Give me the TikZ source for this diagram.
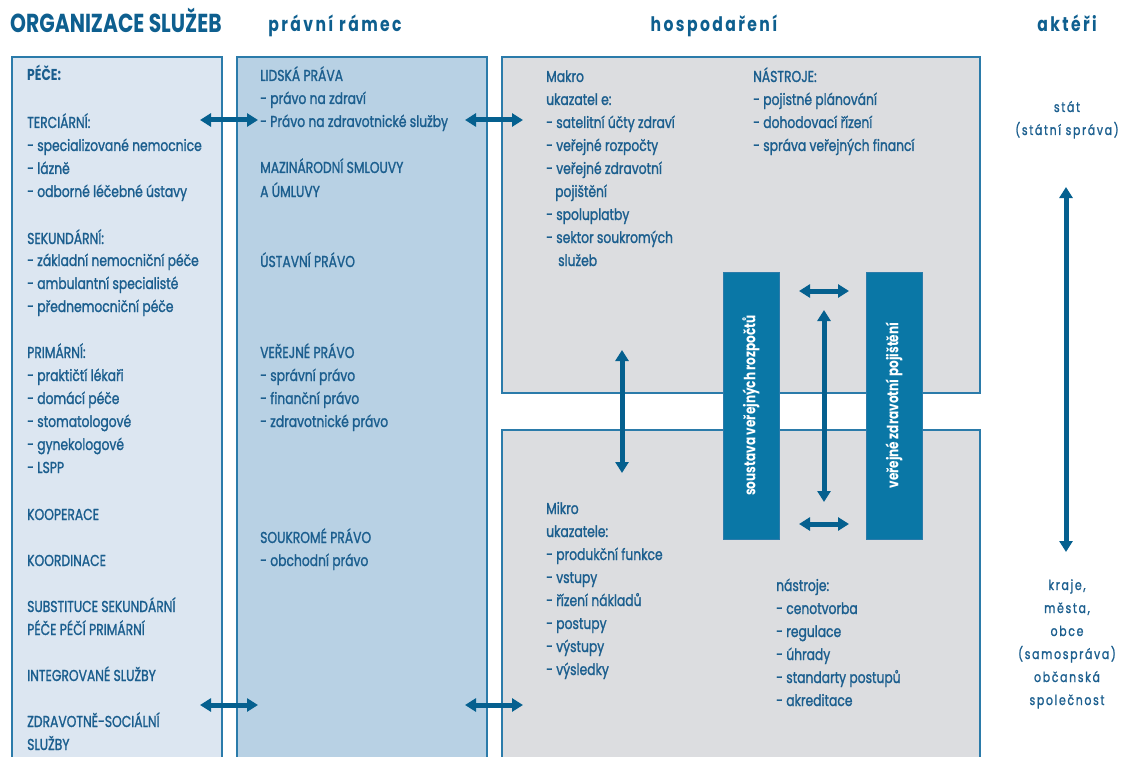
\documentclass[tikz,border=0pt]{standalone}
\usepackage{fontspec}
\setmainfont{Poppins}[FakeStretch=0.78, UprightFeatures={FakeBold=1.3}, BoldFeatures={FakeBold=0}]
\newfontfamily\spacedfont{Poppins}[FakeStretch=0.78, LetterSpace=12, UprightFeatures={FakeBold=1.3}, BoldFeatures={FakeBold=0}]
\usetikzlibrary{arrows.meta}

\definecolor{txt}{HTML}{1B5E8E}
\definecolor{headc}{HTML}{0E5F8F}
\definecolor{boxline}{HTML}{2B7BAA}
\definecolor{carefill}{HTML}{DCE6F1}
\definecolor{lawfill}{HTML}{B8D1E4}
\definecolor{econfill}{HTML}{DCDDE0}
\definecolor{barfill}{HTML}{0A77A6}
\definecolor{arrowc}{HTML}{05608F}

\begin{document}
\begin{tikzpicture}[x=1pt, y=-1pt,
  panel/.style={draw=boxline, line width=1.8pt, anchor=north west, inner sep=0pt},
  bar/.style={draw=boxline, line width=1pt, fill=barfill, text=white, inner sep=0pt,
    font=\fontsize{15.5}{18}\selectfont\bfseries},
  item/.style={anchor=base west, inner sep=0pt, text=txt, font=\fontsize{15.8}{18}\selectfont},
  actor/.style={anchor=base, inner sep=0pt, text=txt, font=\fontsize{14}{16}\spacedfont},
  title/.style={anchor=base west, inner sep=0pt, text=headc, font=\fontsize{26}{30}\selectfont\bfseries},
  coltitle/.style={anchor=base, inner sep=0pt, text=headc, font=\fontsize{20}{24}\spacedfont\bfseries},
  dbl/.style={draw=arrowc, line width=5pt,
    {Triangle[width=13pt,length=11pt]}-{Triangle[width=13pt,length=11pt]}}
]
\useasboundingbox (0,0) rectangle (1125,757);

% column headings
\node[title] (hOrg) at (10,33) {ORGANIZACE SLUŽEB};
\node[coltitle] (hLaw) at (335,32) {právní rámec};
\node[coltitle] (hEcon) at (714,32) {hospodaření};
\node[coltitle] (hAct) at (1067,32) {aktéři};

% panels
\node[panel, fill=carefill, minimum width=210pt, minimum height=720pt] (care) at (11,56) {};
\node[panel, fill=lawfill, minimum width=250pt, minimum height=720pt] (law) at (236,56) {};
\node[panel, fill=econfill, minimum width=478pt, minimum height=336pt] (macro) at (501,56) {};
\node[panel, fill=econfill, minimum width=478pt, minimum height=340pt] (micro) at (501,429) {};

% vertical bars
\node[bar, rotate=90, minimum width=267pt, minimum height=56pt] (budget) at (751,405.5) {soustava veřejných rozpočtů};
\node[bar, rotate=90, minimum width=267pt, minimum height=56pt] (insur) at (894,405.5) {veřejné zdravotní pojištění};

% care organisation
\node[item, font=\fontsize{15.8}{18}\selectfont\bfseries] (c0) at (27,81) {PÉČE:};
\foreach \y/\t [count=\i] in {
  128/TERCIÁRNÍ:, 151/- specializované nemocnice, 174/- lázně, 197/- odborné léčebné ústavy,
  244/SEKUNDÁRNÍ:, 266/- základní nemocniční péče, 289/- ambulantní specialisté, 312/- přednemocniční péče,
  358/PRIMÁRNÍ:, 381/- praktičtí lékaři, 404/- domácí péče, 427/- stomatologové, 450/- gynekologové, 473/- LSPP,
  520/KOOPERACE, 566/KOORDINACE, 612/SUBSTITUCE SEKUNDÁRNÍ, 635/PÉČE PÉČÍ PRIMÁRNÍ,
  681/INTEGROVANÉ SLUŽBY, 727/ZDRAVOTNĚ-SOCIÁLNÍ, 750/SLUŽBY}
  \node[item] (c\i) at (27,\y) {\t};

% legal framework
\foreach \y/\t [count=\i] in {
  81/LIDSKÁ PRÁVA, 104/- právo na zdraví, 127/- Právo na zdravotnické služby,
  173/MAZINÁRODNÍ SMLOUVY, 197/A ÚMLUVY, 267/ÚSTAVNÍ PRÁVO,
  358/VEŘEJNÉ PRÁVO, 381/- správní právo, 404/- finanční právo, 427/- zdravotnické právo,
  543/SOUKROMÉ PRÁVO, 566/- obchodní právo}
  \node[item] (l\i) at (260,\y) {\t};

% macro indicators
\foreach \y/\t [count=\i] in {
  82/Makro, 105/ukazatel e:, 128/- satelitní účty zdraví, 151/- veřejné rozpočty,
  174/- veřejné zdravotní, 220/- spoluplatby, 243/- sektor soukromých}
  \node[item] (m\i) at (546,\y) {\t};
\node[item] (m8) at (555,197) {pojištění};
\node[item] (m9) at (558,266) {služeb};
\foreach \y/\t [count=\i] in {
  82/NÁSTROJE:, 105/- pojistné plánování, 128/- dohodovací řízení, 151/- správa veřejných financí}
  \node[item] (n\i) at (753,\y) {\t};

% micro indicators
\foreach \y/\t [count=\i] in {
  514/Mikro, 537/ukazatele:, 560/- produkční funkce, 583/- vstupy, 606/- řízení nákladů,
  629/- postupy, 652/- výstupy, 675/- výsledky}
  \node[item] (u\i) at (546,\y) {\t};
\foreach \y/\t [count=\i] in {
  591/nástroje:, 614/- cenotvorba, 637/- regulace, 660/- úhrady, 683/- standarty postupů, 706/- akreditace}
  \node[item] (t\i) at (776,\y) {\t};

% actors
\node[actor] (a1) at (1067,112) {stát};
\node[actor] (a2) at (1067,135) {(státní správa)};
\foreach \y/\t [count=\i from 3] in {
  590/{kraje,}, 613/{města,}, 636/obce, 659/(samospráva), 682/občanská, 705/společnost}
  \node[actor] (a\i) at (1067,\y) {\t};

% arrow end points
\coordinate (p1) at (200,120); \coordinate (p2) at (258,120);
\coordinate (p3) at (465,120); \coordinate (p4) at (523,120);
\coordinate (p5) at (200,705); \coordinate (p6) at (258,705);
\coordinate (p7) at (465,705); \coordinate (p8) at (523,705);
\coordinate (q1) at (622,350); \coordinate (q2) at (622,473);
\coordinate (q3) at (799,291); \coordinate (q4) at (849,291);
\coordinate (q5) at (824,310); \coordinate (q6) at (824,502);
\coordinate (q7) at (799,524); \coordinate (q8) at (849,524);
\coordinate (r1) at (1066,187); \coordinate (r2) at (1066,552);

% double arrows
\draw[dbl] (p1) -- (p2);
\draw[dbl] (p3) -- (p4);
\draw[dbl] (p5) -- (p6);
\draw[dbl] (p7) -- (p8);
\draw[dbl] (q1) -- (q2);
\draw[dbl] (q3) -- (q4);
\draw[dbl] (q5) -- (q6);
\draw[dbl] (q7) -- (q8);
\draw[dbl] (r1) -- (r2);
\end{tikzpicture}
\end{document}
